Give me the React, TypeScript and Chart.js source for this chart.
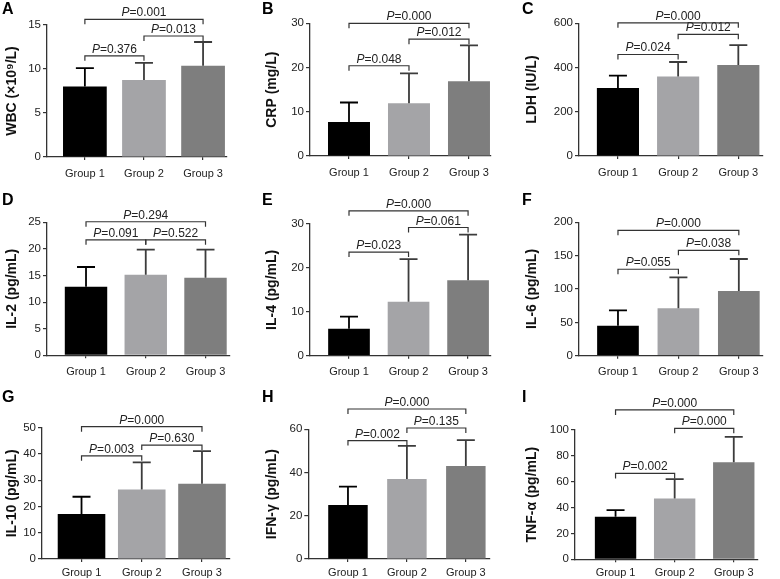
import React, { useEffect, useRef } from 'react';
import { Chart, registerables } from 'chart.js';

Chart.register(...registerables);

const FONT = '"Liberation Sans", Arial, Helvetica, sans-serif';

const groups = ['Group 1', 'Group 2', 'Group 3'];
const barColors = ['#000000', '#a4a4a7', '#7e7e7e'];
const errColors = ['#000000', '#3c3c3c', '#3c3c3c'];
const bracketPairs = [[1, 2], [2, 3], [1, 3]];

// A – WBC
const wbcMean = [8.0, 8.75, 10.37];
const wbcSd = [2.1, 1.95, 2.7];
const wbcP = ['0.376', '0.013', '0.001'];
const wbcPLevel = [11.5, 13.75, 15.65];
const wbcTicks = [0, 5, 10, 15];

// B – CRP
const crpMean = [7.7, 11.9, 16.9];
const crpSd = [4.4, 6.8, 8.1];
const crpP = ['0.048', '0.012', '0.000'];
const crpPLevel = [20.4, 26.4, 30.0];
const crpTicks = [0, 10, 20, 30];

// C – LDH
const ldhMean = [308, 360, 411];
const ldhSd = [55, 65, 90];
const ldhP = ['0.024', '0.012', '0.000'];
const ldhPLevel = [459, 550, 602];
const ldhTicks = [0, 200, 400, 600];

// D – IL-2
const il2Mean = [12.9, 15.15, 14.6];
const il2Sd = [3.7, 4.7, 5.25];
const il2P = ['0.091', '0.522', '0.294'];
const il2PLevel = [21.7, 21.7, 25.1];
const il2Ticks = [0, 5, 10, 15, 20, 25];

// E – IL-4
const il4Mean = [6.15, 12.3, 17.2];
const il4Sd = [2.75, 9.7, 10.4];
const il4P = ['0.023', '0.061', '0.000'];
const il4PLevel = [23.6, 29.2, 33.0];
const il4Ticks = [0, 10, 20, 30];

// F – IL-6
const il6Mean = [45, 71, 97];
const il6Sd = [23, 46.5, 48];
const il6P = ['0.055', '0.038', '0.000'];
const il6PLevel = [129.6, 158, 188];
const il6Ticks = [0, 50, 100, 150, 200];

// G – IL-10
const il10Mean = [17.1, 26.5, 28.7];
const il10Sd = [6.6, 10.3, 12.4];
const il10P = ['0.003', '0.630', '0.000'];
const il10PLevel = [39.3, 43.4, 50.4];
const il10Ticks = [0, 10, 20, 30, 40, 50];

// H – IFN-γ
const ifnMean = [25, 37, 43];
const ifnSd = [8.5, 15.3, 12];
const ifnP = ['0.002', '0.135', '0.000'];
const ifnPLevel = [54.8, 60.6, 69.4];
const ifnTicks = [0, 20, 40, 60];

// I – TNF-α
const tnfMean = [33, 47, 75];
const tnfSd = [5, 15, 19.7];
const tnfP = ['0.002', '0.000', '0.000'];
const tnfPLevel = [66.4, 101.3, 115.5];
const tnfTicks = [0, 20, 40, 60, 80, 100];

type PanelCfg = {
  letter: string; title: string;
  mean: number[]; sd: number[]; p: string[]; pLevel: number[]; ticks: number[];
  left: number; top: number; h: number;
  yWidth: number; padTop: number; zeroY: number; padRight: number;
  xMin: number; xMax: number; barPct: number; letterY: number; labelPad: number;
};

const W = 260;

const panels: PanelCfg[] = [
  { letter: 'A', title: 'WBC (×10⁹/L)', mean: wbcMean, sd: wbcSd, p: wbcP, pLevel: wbcPLevel, ticks: wbcTicks,
    left: 0, top: 0, h: 190, yWidth: 47, padTop: 25, zeroY: 157, padRight: 33, xMin: 0.359, xMax: 3.405, barPct: 0.74, letterY: 10, labelPad: 7 },
  { letter: 'B', title: 'CRP (mg/L)', mean: crpMean, sd: crpSd, p: crpP, pLevel: crpPLevel, ticks: crpTicks,
    left: 260, top: 0, h: 190, yWidth: 50, padTop: 23.3, zeroY: 156, padRight: 29, xMin: 0.35, xMax: 3.367, barPct: 0.7, letterY: 10, labelPad: 7 },
  { letter: 'C', title: 'LDH (IU/L)', mean: ldhMean, sd: ldhSd, p: ldhP, pLevel: ldhPLevel, ticks: ldhTicks,
    left: 520, top: 0, h: 190, yWidth: 59, padTop: 23.3, zeroY: 156, padRight: 17, xMin: 0.353, xMax: 3.41, barPct: 0.7, letterY: 10, labelPad: 7 },
  { letter: 'D', title: 'IL-2 (pg/mL)', mean: il2Mean, sd: il2Sd, p: il2P, pLevel: il2PLevel, ticks: il2Ticks,
    left: 0, top: 190, h: 195, yWidth: 47, padTop: 32.3, zeroY: 165.3, padRight: 30, xMin: 0.347, xMax: 3.41, barPct: 0.71, letterY: 10.5, labelPad: 7 },
  { letter: 'E', title: 'IL-4 (pg/mL)', mean: il4Mean, sd: il4Sd, p: il4P, pLevel: il4PLevel, ticks: il4Ticks,
    left: 260, top: 190, h: 195, yWidth: 50, padTop: 34, zeroY: 165.7, padRight: 29, xMin: 0.345, xMax: 3.385, barPct: 0.7, letterY: 10.5, labelPad: 7 },
  { letter: 'F', title: 'IL-6 (pg/mL)', mean: il6Mean, sd: il6Sd, p: il6P, pLevel: il6PLevel, ticks: il6Ticks,
    left: 520, top: 190, h: 195, yWidth: 59, padTop: 32.3, zeroY: 165.7, padRight: 17, xMin: 0.355, xMax: 3.4, barPct: 0.69, letterY: 10.5, labelPad: 7 },
  { letter: 'G', title: 'IL-10 (pg/mL)', mean: il10Mean, sd: il10Sd, p: il10P, pLevel: il10PLevel, ticks: il10Ticks,
    left: 0, top: 385, h: 194, yWidth: 42, padTop: 42.7, zeroY: 174, padRight: 30, xMin: 0.344, xMax: 3.465, barPct: 0.79, letterY: 12.5, labelPad: 4 },
  { letter: 'H', title: 'IFN-γ (pg/mL)', mean: ifnMean, sd: ifnSd, p: ifnP, pLevel: ifnPLevel, ticks: ifnTicks,
    left: 260, top: 385, h: 194, yWidth: 48.3, padTop: 44.3, zeroY: 174, padRight: 30, xMin: 0.327, xMax: 3.41, barPct: 0.67, letterY: 12.5, labelPad: 4 },
  { letter: 'I', title: 'TNF-α (pg/mL)', mean: tnfMean, sd: tnfSd, p: tnfP, pLevel: tnfPLevel, ticks: tnfTicks,
    left: 520, top: 385, h: 194, yWidth: 55, padTop: 45, zeroY: 174.3, padRight: 22, xMin: 0.314, xMax: 3.41, barPct: 0.7, letterY: 12.5, labelPad: 4 },
];

function makeDecoPlugin(cfg: PanelCfg) {
  return {
    id: 'deco' + cfg.letter,
    afterDraw(chart: any) {
      const ctx = chart.ctx as CanvasRenderingContext2D;
      const xs = chart.scales.x;
      const ys = chart.scales.y;
      const meta = chart.getDatasetMeta(0);
      ctx.save();
      // error bars (upper SD)
      meta.data.forEach((el: any, i: number) => {
        const x = el.x;
        const yb = el.y;
        const yt = ys.getPixelForValue(cfg.mean[i] + cfg.sd[i]);
        ctx.strokeStyle = errColors[i];
        ctx.lineWidth = 1.8;
        ctx.beginPath();
        ctx.moveTo(x, yb);
        ctx.lineTo(x, yt);
        ctx.moveTo(x - 9, yt);
        ctx.lineTo(x + 9, yt);
        ctx.stroke();
      });
      // significance brackets
      bracketPairs.forEach((pair, k) => {
        const x1 = xs.getPixelForValue(pair[0]);
        const x2 = xs.getPixelForValue(pair[1]);
        const y = ys.getPixelForValue(cfg.pLevel[k]);
        ctx.strokeStyle = '#333333';
        ctx.lineWidth = 1.2;
        ctx.beginPath();
        ctx.moveTo(x1, y + 5);
        ctx.lineTo(x1, y);
        ctx.lineTo(x2, y);
        ctx.lineTo(x2, y + 5);
        ctx.stroke();
        const f1 = `italic 12px ${FONT}`;
        const f2 = `12px ${FONT}`;
        const t2 = '=' + cfg.p[k];
        ctx.font = f1;
        const w1 = ctx.measureText('P').width;
        ctx.font = f2;
        const w2 = ctx.measureText(t2).width;
        const sx = (x1 + x2) / 2 - (w1 + w2) / 2;
        ctx.fillStyle = '#222222';
        ctx.textBaseline = 'alphabetic';
        ctx.textAlign = 'left';
        ctx.font = f1;
        ctx.fillText('P', sx, y - 3);
        ctx.font = f2;
        ctx.fillText(t2, sx + w1, y - 3);
      });
      // panel letter
      ctx.fillStyle = '#000000';
      ctx.font = `bold 16px ${FONT}`;
      ctx.textBaseline = 'middle';
      ctx.textAlign = 'left';
      ctx.fillText(cfg.letter, 2, cfg.letterY);
      ctx.restore();
    },
  };
}

function Panel({ cfg }: { cfg: PanelCfg }) {
  const ref = useRef<HTMLCanvasElement>(null);
  useEffect(() => {
    const yMax = cfg.ticks[cfg.ticks.length - 1];
    const chart = new Chart(ref.current as HTMLCanvasElement, {
      type: 'bar',
      data: {
        datasets: [
          {
            data: cfg.mean.map((m, i) => ({ x: i + 1, y: m })),
            backgroundColor: barColors,
            borderWidth: 0,
            barPercentage: cfg.barPct,
            categoryPercentage: 1,
          } as any,
        ],
      },
      options: {
        responsive: false,
        animation: false,
        devicePixelRatio: 1,
        events: [],
        layout: { padding: { top: cfg.padTop, right: cfg.padRight, left: 0, bottom: 0 } },
        plugins: { legend: { display: false }, tooltip: { enabled: false }, title: { display: false } },
        scales: {
          x: {
            type: 'linear',
            offset: false,
            min: cfg.xMin,
            max: cfg.xMax,
            afterBuildTicks: (s: any) => {
              s.ticks = groups.map((_, i) => ({ value: i + 1 }));
            },
            afterFit: (s: any) => {
              s.height = cfg.h - cfg.zeroY;
            },
            ticks: {
              autoSkip: false,
              maxRotation: 0,
              padding: cfg.labelPad,
              color: '#222222',
              font: { family: FONT, size: 11 },
              callback: (v: any) => groups[Math.round(Number(v)) - 1] ?? '',
            },
            grid: { offset: false, drawOnChartArea: false, drawTicks: true, tickLength: 3, color: '#333333', lineWidth: 1.2 },
            border: { display: true, color: '#333333', width: 1.3 },
          },
          y: {
            type: 'linear',
            min: 0,
            max: yMax,
            afterBuildTicks: (s: any) => {
              s.ticks = cfg.ticks.map((t) => ({ value: t }));
            },
            afterFit: (s: any) => {
              s.width = cfg.yWidth;
            },
            ticks: {
              padding: 2,
              color: '#222222',
              font: { family: FONT, size: 11.5 },
            },
            grid: { drawOnChartArea: false, drawTicks: true, tickLength: 4, color: '#333333', lineWidth: 1.2 },
            border: { display: true, color: '#333333', width: 1.3 },
            title: {
              display: true,
              text: cfg.title,
              color: '#111111',
              font: { family: FONT, size: 14, weight: 'bold' },
              padding: { top: 4, bottom: 0 },
            },
          },
        },
      } as any,
      plugins: [makeDecoPlugin(cfg)],
    });
    return () => chart.destroy();
  }, []);
  return (
    <canvas
      ref={ref}
      width={W}
      height={cfg.h}
      style={{ position: 'absolute', left: cfg.left, top: cfg.top, width: W, height: cfg.h, display: 'block' }}
    />
  );
}

export default function App() {
  return (
    <div style={{ position: 'fixed', left: 0, top: 0, width: 780, height: 579, background: '#ffffff', overflow: 'hidden' }}>
      {panels.map((p) => (
        <Panel key={p.letter} cfg={p} />
      ))}
    </div>
  );
}
